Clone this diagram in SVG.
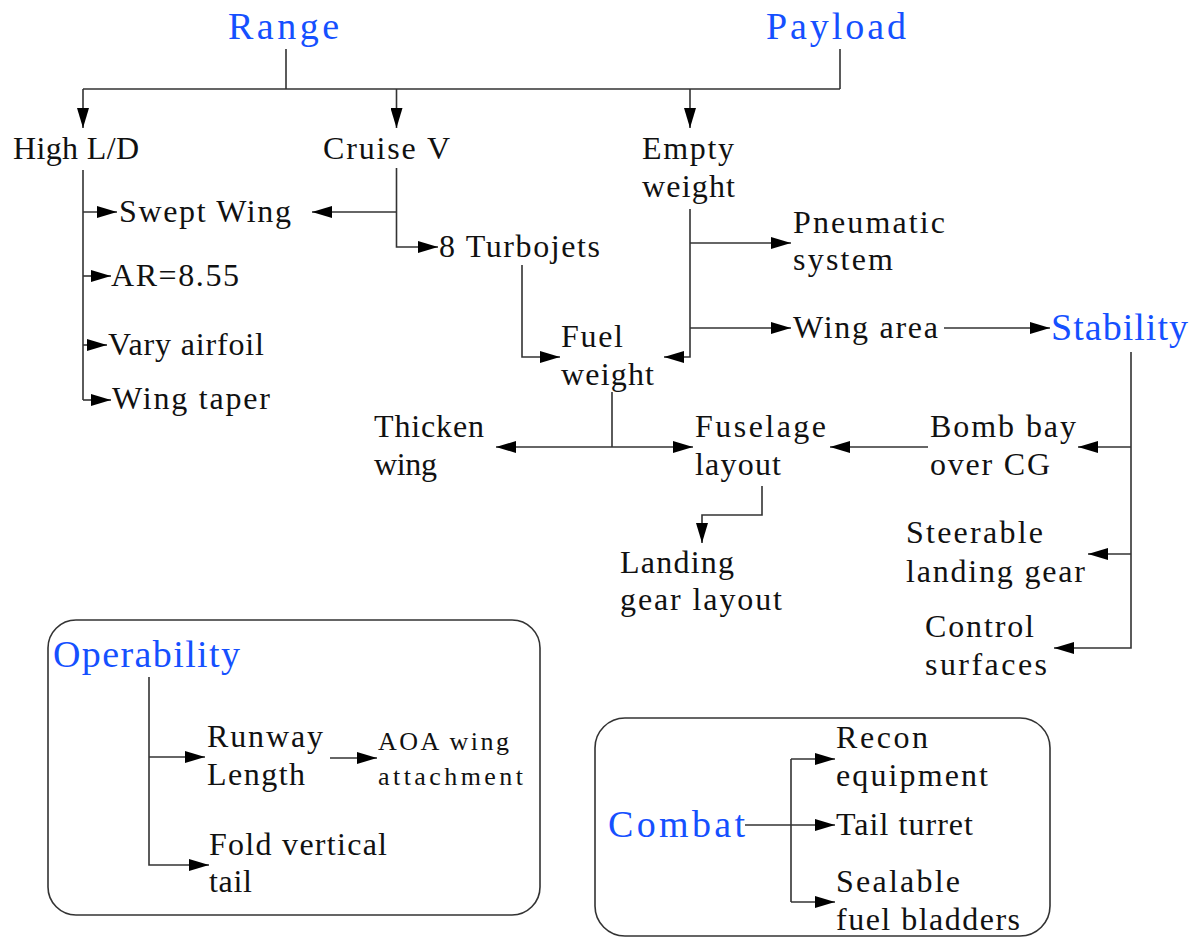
<svg xmlns="http://www.w3.org/2000/svg" width="1193" height="938" viewBox="0 0 1193 938">
<style>
text{font-family:'Liberation Serif',serif;font-size:32px;fill:#111}
.t{fill:#1550ff;font-size:38px}
.s{font-size:26px}
.c{fill:none;stroke:#333;stroke-width:1.6}
.box{fill:none;stroke:#333;stroke-width:1.6}
</style>
<defs>
<marker id="ah" markerUnits="userSpaceOnUse" markerWidth="20" markerHeight="12" refX="20" refY="6" orient="auto">
<path d="M0,0 L20,6 L0,12 z" fill="#000"/>
</marker>
</defs>
<rect width="1193" height="938" fill="#fff"/>
<g id="boxes">
<rect class="box" x="48" y="620" width="492" height="295" rx="28"/>
<rect class="box" x="595" y="718" width="455" height="218" rx="30"/>
</g>
<g id="connectors">
<path class="c" d="M286,49 V89 M83,89 H840 M840,49 V89"/>
<path class="c" d="M83,89 V128" marker-end="url(#ah)"/>
<path class="c" d="M396.5,89 V128" marker-end="url(#ah)"/>
<path class="c" d="M690,89 V128" marker-end="url(#ah)"/>
<path class="c" d="M83,170 V400"/>
<path class="c" d="M83,212 H117" marker-end="url(#ah)"/>
<path class="c" d="M83,276 H111" marker-end="url(#ah)"/>
<path class="c" d="M83,345 H107" marker-end="url(#ah)"/>
<path class="c" d="M83,400 H111" marker-end="url(#ah)"/>
<path class="c" d="M396.5,168 V247 H438" marker-end="url(#ah)"/>
<path class="c" d="M396.5,212 H312" marker-end="url(#ah)"/>
<path class="c" d="M522,265 V357 H560" marker-end="url(#ah)"/>
<path class="c" d="M690,209 V357 H664" marker-end="url(#ah)"/>
<path class="c" d="M690,243 H791" marker-end="url(#ah)"/>
<path class="c" d="M690,328 H791" marker-end="url(#ah)"/>
<path class="c" d="M944,328 H1050" marker-end="url(#ah)"/>
<path class="c" d="M1131,352 V648 H1054" marker-end="url(#ah)"/>
<path class="c" d="M1131,447 H1078" marker-end="url(#ah)"/>
<path class="c" d="M1131,554 H1088" marker-end="url(#ah)"/>
<path class="c" d="M612,392 V447"/>
<path class="c" d="M612,447 H496" marker-end="url(#ah)"/>
<path class="c" d="M612,447 H693" marker-end="url(#ah)"/>
<path class="c" d="M928,447 H830" marker-end="url(#ah)"/>
<path class="c" d="M762,486 V515 H702 V543" marker-end="url(#ah)"/>
<path class="c" d="M149,677 V865 H209" marker-end="url(#ah)"/>
<path class="c" d="M149,757 H205" marker-end="url(#ah)"/>
<path class="c" d="M330,758 H377" marker-end="url(#ah)"/>
<path class="c" d="M745,825 H835" marker-end="url(#ah)"/>
<path class="c" d="M791,759 V902"/>
<path class="c" d="M791,759 H835" marker-end="url(#ah)"/>
<path class="c" d="M791,902 H835" marker-end="url(#ah)"/>
</g>
<g id="range"><text class="t" x="228" y="39" textLength="111" lengthAdjust="spacing">Range</text></g>
<g id="payload"><text class="t" x="766" y="39" textLength="140" lengthAdjust="spacing">Payload</text></g>
<g id="highld"><text x="13" y="159" textLength="126" lengthAdjust="spacing">High L/D</text></g>
<g id="cruisev"><text x="323" y="159" textLength="127" lengthAdjust="spacing">Cruise V</text></g>
<g id="emptyweight"><text x="642" y="159" textLength="92" lengthAdjust="spacing">Empty</text><text x="642" y="197" textLength="93" lengthAdjust="spacing">weight</text></g>
<g id="sweptwing"><text x="119" y="222" textLength="172" lengthAdjust="spacing">Swept Wing</text></g>
<g id="turbojets"><text x="439" y="257" textLength="161" lengthAdjust="spacing">8 Turbojets</text></g>
<g id="pneumatic"><text x="793" y="233" textLength="152" lengthAdjust="spacing">Pneumatic</text><text x="793" y="270" textLength="100" lengthAdjust="spacing">system</text></g>
<g id="ar"><text x="111" y="286" textLength="128" lengthAdjust="spacing">AR=8.55</text></g>
<g id="varyairfoil"><text x="108" y="355" textLength="156" lengthAdjust="spacing">Vary airfoil</text></g>
<g id="wingarea"><text x="793" y="338" textLength="145" lengthAdjust="spacing">Wing area</text></g>
<g id="stability"><text class="t" x="1051" y="340" textLength="137" lengthAdjust="spacing">Stability</text></g>
<g id="fuelweight"><text x="561" y="347" textLength="62" lengthAdjust="spacing">Fuel</text><text x="561" y="385" textLength="93" lengthAdjust="spacing">weight</text></g>
<g id="wingtaper"><text x="112" y="409" textLength="158" lengthAdjust="spacing">Wing taper</text></g>
<g id="thicken"><text x="374" y="437" textLength="110" lengthAdjust="spacing">Thicken</text><text x="374" y="475" textLength="63" lengthAdjust="spacing">wing</text></g>
<g id="fuselage"><text x="695" y="437" textLength="131" lengthAdjust="spacing">Fuselage</text><text x="695" y="475" textLength="86" lengthAdjust="spacing">layout</text></g>
<g id="bombbay"><text x="930" y="437" textLength="146" lengthAdjust="spacing">Bomb bay</text><text x="930" y="475" textLength="120" lengthAdjust="spacing">over CG</text></g>
<g id="steerable"><text x="906" y="543" textLength="137" lengthAdjust="spacing">Steerable</text><text x="906" y="582" textLength="179" lengthAdjust="spacing">landing gear</text></g>
<g id="landing"><text x="620" y="573" textLength="114" lengthAdjust="spacing">Landing</text><text x="620" y="610" textLength="162" lengthAdjust="spacing">gear layout</text></g>
<g id="control"><text x="925" y="637" textLength="109" lengthAdjust="spacing">Control</text><text x="925" y="675" textLength="122" lengthAdjust="spacing">surfaces</text></g>
<g id="operability"><text class="t" x="53" y="667" textLength="187" lengthAdjust="spacing">Operability</text></g>
<g id="runway"><text x="207" y="747" textLength="116" lengthAdjust="spacing">Runway</text><text x="207" y="785" textLength="98" lengthAdjust="spacing">Length</text></g>
<g id="aoa"><text class="s" x="378" y="750" textLength="131" lengthAdjust="spacing">AOA wing</text><text class="s" x="378" y="785" textLength="145" lengthAdjust="spacing">attachment</text></g>
<g id="fold"><text x="209" y="855" textLength="178" lengthAdjust="spacing">Fold vertical</text><text x="209" y="892" textLength="43" lengthAdjust="spacing">tail</text></g>
<g id="combat"><text class="t" x="608" y="837" textLength="137" lengthAdjust="spacing">Combat</text></g>
<g id="recon"><text x="836" y="748" textLength="92" lengthAdjust="spacing">Recon</text><text x="836" y="786" textLength="152" lengthAdjust="spacing">equipment</text></g>
<g id="tailturret"><text x="836" y="835" textLength="137" lengthAdjust="spacing">Tail turret</text></g>
<g id="sealable"><text x="836" y="892" textLength="124" lengthAdjust="spacing">Sealable</text><text x="836" y="930" textLength="184" lengthAdjust="spacing">fuel bladders</text></g>
</svg>
